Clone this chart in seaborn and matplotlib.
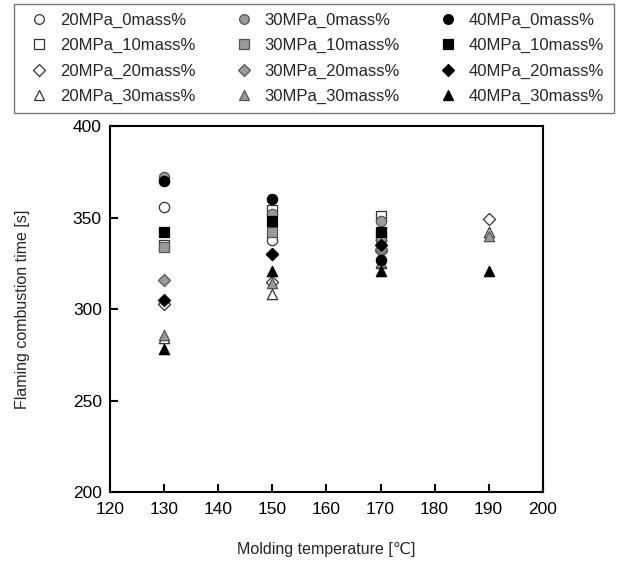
import numpy as np
import pandas as pd
import matplotlib
matplotlib.use("Agg")
import matplotlib.pyplot as plt
import seaborn as sns
from matplotlib.lines import Line2D

sns.set_theme(style="white")
plt.rcParams['font.family'] = ['Liberation Sans', 'DejaVu Sans']

temps_3 = [130, 150, 170]
temps_4 = [130, 150, 170, 190]

series_names = [
    "20MPa_0mass%", "20MPa_10mass%", "20MPa_20mass%", "20MPa_30mass%",
    "30MPa_0mass%", "30MPa_10mass%", "30MPa_20mass%", "30MPa_30mass%",
    "40MPa_0mass%", "40MPa_10mass%", "40MPa_20mass%", "40MPa_30mass%",
]

p20_0 = [356, 338, 338]
p20_10 = [335, 354, 351]
p20_20 = [303, 315, 332, 349]
p20_30 = [284, 308, 325, 342]
p30_0 = [372, 352, 348]
p30_10 = [334, 342, 340]
p30_20 = [316, 330, 333]
p30_30 = [286, 314, 326, 340]
p40_0 = [370, 360, 327]
p40_10 = [342, 348, 342]
p40_20 = [305, 330, 335]
p40_30 = [278, 321, 321, 321]

series_values = [p20_0, p20_10, p20_20, p20_30,
                 p30_0, p30_10, p30_20, p30_30,
                 p40_0, p40_10, p40_20, p40_30]

markers = ['o', 's', 'D', '^'] * 3
faces = ['white'] * 4 + ['#9a9a9a'] * 4 + ['black'] * 4
edges = ['#333333'] * 4 + ['#555555'] * 4 + ['black'] * 4
sizes = [55, 55, 38, 55] * 3

fig = plt.figure(figsize=(6.26, 5.63), dpi=100)
ax = fig.add_axes([0.176, 0.126, 0.691, 0.650])

handles = []
for name, vals, m, fc, ec, s in zip(series_names, series_values, markers, faces, edges, sizes):
    xs = temps_4 if len(vals) == 4 else temps_3
    df = pd.DataFrame({"T": xs, "t": vals})
    sns.scatterplot(data=df, x="T", y="t", marker=m, color=fc, edgecolor=ec,
                    linewidth=0.9, s=s, ax=ax, legend=False, zorder=3)
    handles.append(Line2D([], [], linestyle='none', marker=m, markerfacecolor=fc,
                          markeredgecolor=ec, markeredgewidth=0.9,
                          markersize=7 if m != 'D' else 6, label=name))

ax.set_xlim(120, 200)
ax.set_ylim(200, 400)
ax.set_xticks(np.arange(120, 201, 10))
ax.set_yticks(np.arange(200, 401, 50))
ax.tick_params(axis='both', direction='in', length=6, width=1.5, labelsize=12.5,
               colors='black', left=True, bottom=True, top=False, right=False)
ax.tick_params(axis='x', pad=7)
ax.tick_params(axis='y', pad=6)
for sp in ax.spines.values():
    sp.set_color('black')
    sp.set_linewidth(1.5)
ax.set_xlabel("Molding temperature [℃]", fontsize=11.5, labelpad=18)
ax.set_ylabel("Flaming combustion time [s]", fontsize=11.5, labelpad=31)
ax.grid(False)

leg = fig.legend(handles=handles, loc='upper left', ncol=3,
                 bbox_to_anchor=(14 / 626, 1 - 3.5 / 563), fontsize=12,
                 frameon=True, fancybox=False, edgecolor='#555555',
                 labelspacing=0.62, handletextpad=0.3, borderaxespad=0.0,
                 handlelength=1.9, borderpad=0.55, columnspacing=1.95)
leg.get_frame().set_linewidth(1.0)

fig.savefig("out.png", dpi=100)
